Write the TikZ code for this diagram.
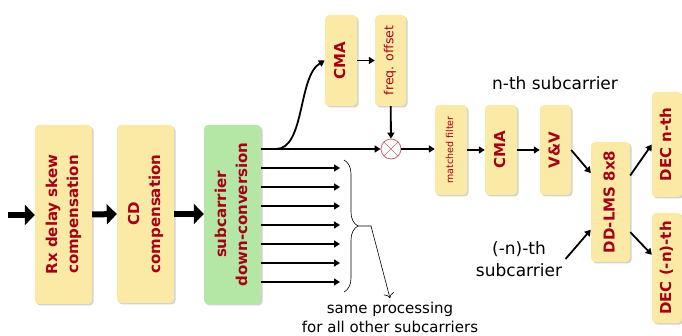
\documentclass[tikz,border=0pt]{standalone}
\usepackage{fontspec}
\setmainfont{DejaVu Sans}
\usepackage{graphicx}
\usepackage{tikz}
\definecolor{boxyellow}{RGB}{250,234,165}
\definecolor{boxgreen}{RGB}{180,230,166}
\definecolor{darkred}{RGB}{165,0,22}
\definecolor{shadowgray}{RGB}{210,210,210}
\usetikzlibrary{calc, shadows}
\usetikzlibrary{arrows.meta,decorations.pathreplacing}
\newcommand*{\vtext}[1]{\rotatebox{90}{\begin{tabular}{@{}c@{}}#1\end{tabular}}}
\tikzset{%
  block/.style={rectangle, rounded corners=4pt, fill=boxyellow, text=darkred, inner sep=0pt,
    font=\fontsize{15}{21}\selectfont\bfseries,
    drop shadow={shadow xshift=1.5pt, shadow yshift=-1.5pt, fill=shadowgray, opacity=1}},% processing block
  mixer/.style={circle, draw=darkred!60, line width=0.8pt, fill=white, minimum size=20pt, inner sep=0pt,
    path picture={\draw[darkred!60, line width=0.6pt]
      (path picture bounding box.north west) -- (path picture bounding box.south east)
      (path picture bounding box.north east) -- (path picture bounding box.south west);}},% mixer
  bigarrow/.style={line width=6pt, -{Triangle[length=10pt, width=20pt]}},% thick input arrows
  flow/.style={line width=1.8pt, -{Triangle[length=6pt, width=7pt]}},% signal flow
  note/.style={font=\fontsize{15}{19}\selectfont, align=center}% black remarks
}

\begin{document}
\begin{tikzpicture}[x=1pt, y=-1pt]
\useasboundingbox (0,0) rectangle (682,336);
\node[block, minimum width=57pt, minimum height=179pt] (rx) at (63.5,214.5) {\vtext{Rx delay skew\\compensation}};
\node[block, minimum width=57pt, minimum height=178pt] (cd) at (145.5,214) {\vtext{CD\\compensation}};
\node[block, fill=boxgreen, minimum width=57pt, minimum height=179pt] (sub) at (232.5,214.5) {\vtext{subcarrier\\down-conversion}};
\node[block, minimum width=32pt, minimum height=91pt] (cmaa) at (341,60.5) {\vtext{CMA}};
\node[block, font=\fontsize{12.5}{14}\selectfont, minimum width=31pt, minimum height=91pt] (freq) at (390.5,60.5) {\vtext{freq. offset}};
\node[mixer] (mix) at (391,149) {};
\node[block, font=\fontsize{9.5}{11}\selectfont, minimum width=32pt, minimum height=90pt] (mf) at (451,150) {\vtext{matched filter}};
\node[block, minimum width=32pt, minimum height=90pt] (cmab) at (501,150) {\vtext{CMA}};
\node[block, minimum width=31pt, minimum height=90pt] (vv) at (555.5,150) {\vtext{V\&V}};
\node[block, minimum width=39pt, minimum height=120pt] (dd) at (610.5,202) {\vtext{DD-LMS 8x8}};
\node[block, minimum width=30pt, minimum height=105pt] (decn) at (667,144.5) {\vtext{DEC n-th}};
\node[block, minimum width=30pt, minimum height=110pt] (decm) at (667,268) {\vtext{DEC (-n)-th}};

\node[note, font=\fontsize{17}{20}\selectfont] (ntxt) at (555,83) {n-th subcarrier};
\node[note, font=\fontsize{17}{22}\selectfont] (mtxt) at (519,259) {(-n)-th\\subcarrier};
\node[note] (same) at (390,317) {same processing\\for all other subcarriers};

%%%%
\coordinate (in) at (8,215);
\draw[bigarrow] (in) -- (rx.west |- in);
\draw[bigarrow] (rx.east) -- (cd.west);
\draw[bigarrow] (cd.east) -- (sub.west |- cd.east);

\coordinate (br) at (276,149);
\draw[flow] (sub.east |- mix) -- (mix.west);
\draw[flow] (br) .. controls (305,149) and (298,76) .. (cmaa.west);
\draw[flow] (cmaa) -- (freq);
\draw[flow] (freq) -- (mix);
\draw[flow] (mix) -- (mf.west |- mix);
\draw[flow] (mf) -- (cmab);
\draw[flow] (cmab) -- (vv);
\draw[flow] (vv.east) -- ($(dd.north west)!0.26!(dd.south west)$);
\draw[flow] (mtxt.east) -- ($(dd.north west)!0.73!(dd.south west)$);
\draw[flow] ($(dd.north east)!0.28!(dd.south east)$) -- (decn.west);
\draw[flow] ($(dd.north east)!0.75!(dd.south east)$) -- ($(decm.north west)!0.38!(decm.south west)$);

\foreach \k in {0,...,6} {
  \coordinate (out\k) at (340, 168+19*\k);
  \draw[flow] (sub.east |- out\k) -- (out\k);
}
%%%%

\draw[decorate, decoration={brace, amplitude=14pt}, line width=0.6pt] (344,160) -- (344,292);
\coordinate (tip) at (358,226);
\draw[line width=0.6pt, -{To[length=5pt]}] (tip) -- (371,226) -- (same.north);
\end{tikzpicture}
\end{document}
